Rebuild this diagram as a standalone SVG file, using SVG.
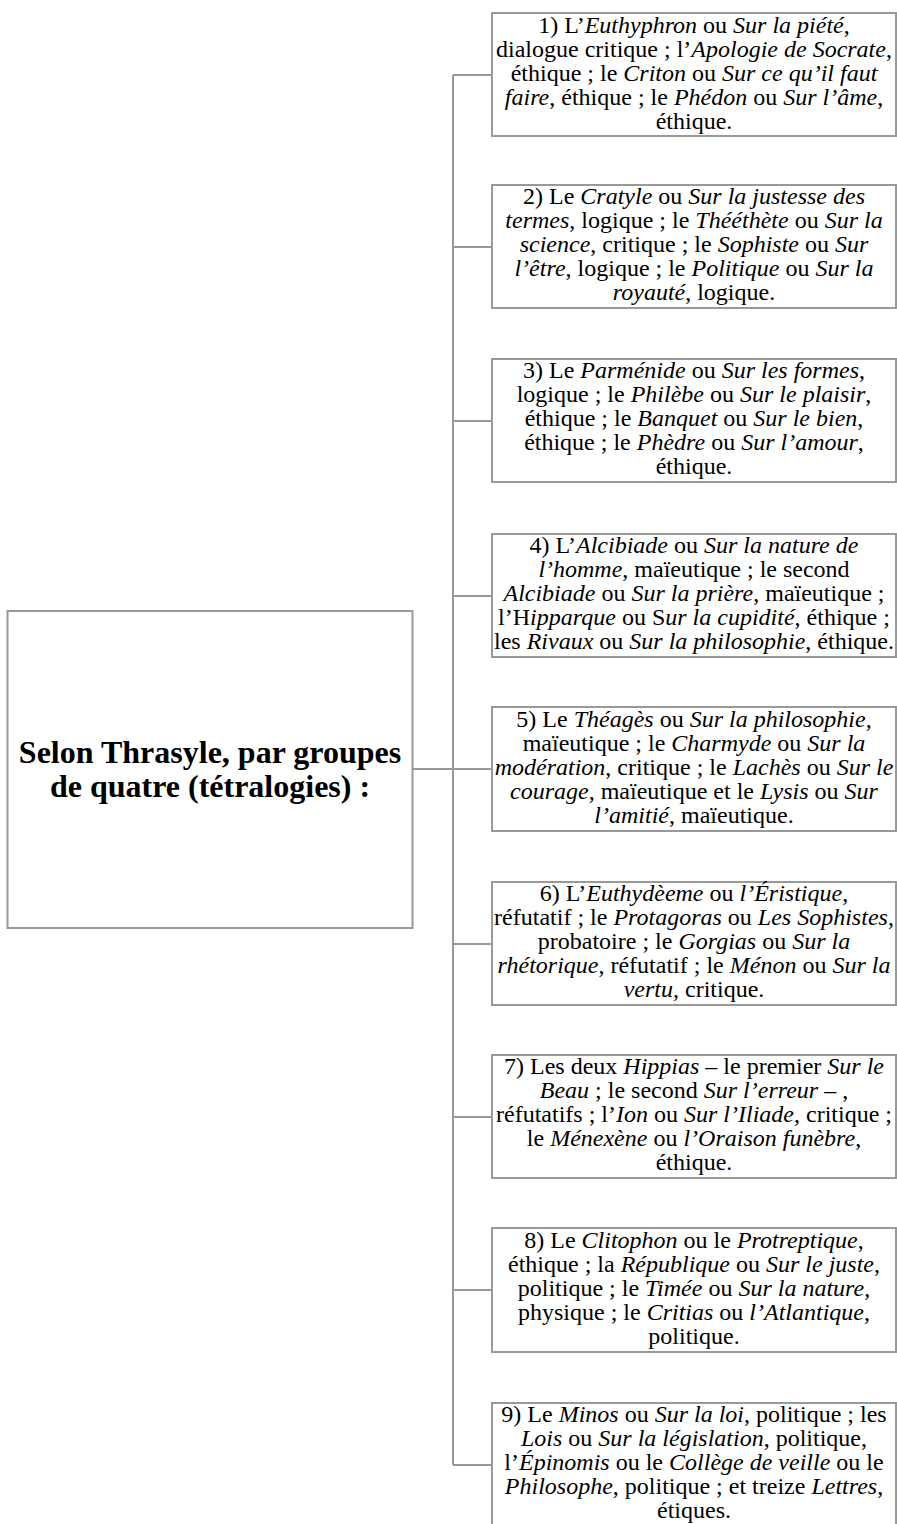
<svg xmlns="http://www.w3.org/2000/svg" width="897" height="1524" viewBox="0 0 897 1524">
<style>
.box{fill:#fff;stroke:#999;stroke-width:2}
.con{fill:none;stroke:#999;stroke-width:2}
.t{font-family:"Liberation Serif","Times New Roman",serif;font-size:24px;text-anchor:middle;fill:#000}
.i{font-style:italic}
.main{font-family:"Liberation Serif","Times New Roman",serif;font-size:32px;font-weight:bold;text-anchor:middle;fill:#000}
</style>
<rect width="897" height="1524" fill="#fff"/>
<g id="connectors">
<path class="con" d="M413 769H453M453 75V1465M453 75H492M453 247H492M453 421H492M453 596H492M453 769H492M453 944H492M453 1117H492M453 1290H492M453 1465H492"/>
</g>
<g id="root">
<rect class="box" x="7.5" y="611" width="405" height="317"/>
<text class="main" x="210" y="763">Selon Thrasyle, par groupes</text>
<text class="main" x="210" y="797">de quatre (tétralogies) :</text>
</g>
<g id="n1">
<rect class="box" x="492" y="13" width="404" height="123"/>
<text class="t" x="694" y="33">1) L’<tspan class="i">Euthyphron</tspan> ou <tspan class="i">Sur la piété</tspan>,</text>
<text class="t" x="694" y="57">dialogue critique ; l’<tspan class="i">Apologie de Socrate</tspan>,</text>
<text class="t" x="694" y="81">éthique ; le <tspan class="i">Criton</tspan> ou <tspan class="i">Sur ce qu’il faut</tspan></text>
<text class="t" x="694" y="105"><tspan class="i">faire</tspan>, éthique ; le <tspan class="i">Phédon</tspan> ou <tspan class="i">Sur l’âme</tspan>,</text>
<text class="t" x="694" y="129">éthique.</text>
</g>
<g id="n2">
<rect class="box" x="492" y="185" width="404" height="123"/>
<text class="t" x="694" y="204">2) Le <tspan class="i">Cratyle</tspan> ou <tspan class="i">Sur la justesse des</tspan></text>
<text class="t" x="694" y="228"><tspan class="i">termes</tspan>, logique ; le <tspan class="i">Thééthète</tspan> ou <tspan class="i">Sur la</tspan></text>
<text class="t" x="694" y="252"><tspan class="i">science</tspan>, critique ; le <tspan class="i">Sophiste</tspan> ou <tspan class="i">Sur</tspan></text>
<text class="t" x="694" y="276"><tspan class="i">l’être</tspan>, logique ; le <tspan class="i">Politique</tspan> ou <tspan class="i">Sur la</tspan></text>
<text class="t" x="694" y="300"><tspan class="i">royauté</tspan>, logique.</text>
</g>
<g id="n3">
<rect class="box" x="492" y="359" width="404" height="123"/>
<text class="t" x="694" y="378">3) Le <tspan class="i">Parménide</tspan> ou <tspan class="i">Sur les formes</tspan>,</text>
<text class="t" x="694" y="402">logique ; le <tspan class="i">Philèbe</tspan> ou <tspan class="i">Sur le plaisir</tspan>,</text>
<text class="t" x="694" y="426">éthique ; le <tspan class="i">Banquet</tspan> ou <tspan class="i">Sur le bien</tspan>,</text>
<text class="t" x="694" y="450">éthique ; le <tspan class="i">Phèdre</tspan> ou <tspan class="i">Sur l’amour</tspan>,</text>
<text class="t" x="694" y="474">éthique.</text>
</g>
<g id="n4">
<rect class="box" x="492" y="534" width="404" height="123"/>
<text class="t" x="694" y="553">4) L’<tspan class="i">Alcibiade</tspan> ou <tspan class="i">Sur la nature de</tspan></text>
<text class="t" x="694" y="577"><tspan class="i">l’homme</tspan>, maïeutique ; le second</text>
<text class="t" x="694" y="601"><tspan class="i">Alcibiade</tspan> ou <tspan class="i">Sur la prière</tspan>, maïeutique ;</text>
<text class="t" x="694" y="625">l’H<tspan class="i">ipparque</tspan> ou S<tspan class="i">ur la cupidité</tspan>, éthique ;</text>
<text class="t" x="694" y="649">les <tspan class="i">Rivaux</tspan> ou <tspan class="i">Sur la philosophie</tspan>, éthique.</text>
</g>
<g id="n5">
<rect class="box" x="492" y="707" width="404" height="124"/>
<text class="t" x="694" y="727">5) Le <tspan class="i">Théagès</tspan> ou <tspan class="i">Sur la philosophie</tspan>,</text>
<text class="t" x="694" y="751">maïeutique ; le <tspan class="i">Charmyde</tspan> ou <tspan class="i">Sur la</tspan></text>
<text class="t" x="694" y="775"><tspan class="i">modération</tspan>, critique ; le <tspan class="i">Lachès</tspan> ou <tspan class="i">Sur le</tspan></text>
<text class="t" x="694" y="799"><tspan class="i">courage</tspan>, maïeutique et le <tspan class="i">Lysis</tspan> ou <tspan class="i">Sur</tspan></text>
<text class="t" x="694" y="823"><tspan class="i">l’amitié</tspan>, maïeutique.</text>
</g>
<g id="n6">
<rect class="box" x="492" y="882" width="404" height="123"/>
<text class="t" x="694" y="901">6) L’<tspan class="i">Euthydèeme</tspan> ou <tspan class="i">l’Éristique</tspan>,</text>
<text class="t" x="694" y="925">réfutatif ; le <tspan class="i">Protagoras</tspan> ou <tspan class="i">Les Sophistes</tspan>,</text>
<text class="t" x="694" y="949">probatoire ; le <tspan class="i">Gorgias</tspan> ou <tspan class="i">Sur la</tspan></text>
<text class="t" x="694" y="973"><tspan class="i">rhétorique</tspan>, réfutatif ; le <tspan class="i">Ménon</tspan> ou <tspan class="i">Sur la</tspan></text>
<text class="t" x="694" y="997"><tspan class="i">vertu</tspan>, critique.</text>
</g>
<g id="n7">
<rect class="box" x="492" y="1055" width="404" height="123"/>
<text class="t" x="694" y="1074">7) Les deux <tspan class="i">Hippias</tspan> – le premier <tspan class="i">Sur le</tspan></text>
<text class="t" x="694" y="1098"><tspan class="i">Beau</tspan> ; le second <tspan class="i">Sur l’erreur –</tspan> ,</text>
<text class="t" x="694" y="1122">réfutatifs ; l’<tspan class="i">Ion</tspan> ou <tspan class="i">Sur l’Iliade</tspan>, critique ;</text>
<text class="t" x="694" y="1146">le <tspan class="i">Ménexène</tspan> ou <tspan class="i">l’Oraison funèbre</tspan>,</text>
<text class="t" x="694" y="1170">éthique.</text>
</g>
<g id="n8">
<rect class="box" x="492" y="1228" width="404" height="124"/>
<text class="t" x="694" y="1248">8) Le <tspan class="i">Clitophon</tspan> ou le <tspan class="i">Protreptique</tspan>,</text>
<text class="t" x="694" y="1272">éthique ; la <tspan class="i">République</tspan> ou <tspan class="i">Sur le juste</tspan>,</text>
<text class="t" x="694" y="1296">politique ; le <tspan class="i">Timée</tspan> ou <tspan class="i">Sur la nature</tspan>,</text>
<text class="t" x="694" y="1320">physique ; le <tspan class="i">Critias</tspan> ou <tspan class="i">l’Atlantique</tspan>,</text>
<text class="t" x="694" y="1344">politique.</text>
</g>
<g id="n9">
<rect class="box" x="492" y="1403" width="404" height="124"/>
<text class="t" x="694" y="1422">9) Le <tspan class="i">Minos</tspan> ou <tspan class="i">Sur la loi</tspan>, politique ; les</text>
<text class="t" x="694" y="1446"><tspan class="i">Lois</tspan> ou <tspan class="i">Sur la législation</tspan>, politique,</text>
<text class="t" x="694" y="1470">l’<tspan class="i">Épinomis</tspan> ou le <tspan class="i">Collège de veille</tspan> ou le</text>
<text class="t" x="694" y="1494"><tspan class="i">Philosophe</tspan>, politique ; et treize <tspan class="i">Lettres</tspan>,</text>
<text class="t" x="694" y="1518">étiques.</text>
</g>
</svg>
